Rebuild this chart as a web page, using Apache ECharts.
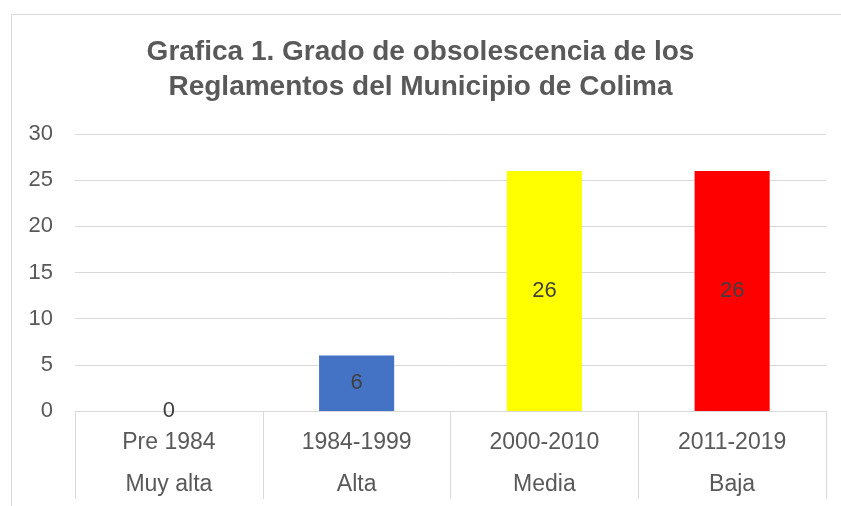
<!DOCTYPE html>
<html>
<head>
<meta charset="utf-8">
<script src="https://cdn.jsdelivr.net/npm/echarts@6/dist/echarts.min.js"></script>
<style>
  html, body { margin: 0; padding: 0; background: #fff; }
  #chart { width: 841px; height: 506px; }
</style>
</head>
<body>
<div id="chart"></div>
<script>
var periods = ['Pre 1984', '1984-1999', '2000-2010', '2011-2019'];
var levels = ['Muy alta', 'Alta', 'Media', 'Baja'];
var counts = [0, 6, 26, 26];
var barColors = ['#4472C4', '#4472C4', '#FFFF00', '#FF0000'];
var yTicks = [0, 5, 10, 15, 20, 25, 30];

var chart = echarts.init(document.getElementById('chart'));
chart.setOption({
  animation: false,
  textStyle: { fontFamily: 'Liberation Sans, Arial, sans-serif' },
  title: {
    text: 'Grafica 1. Grado de obsolescencia de los\nReglamentos del Municipio de Colima',
    left: 'center',
    top: 30,
    textStyle: {
      fontSize: 28,
      fontWeight: 'bold',
      color: '#595959',
      lineHeight: 35
    }
  },
  graphic: [{
    type: 'polyline',
    shape: { points: [[11.5, 506], [11.5, 14.5], [841, 14.5]] },
    style: { stroke: '#d9d9d9', lineWidth: 1, fill: null }
  }],
  grid: { left: 75, right: 15, top: 134, bottom: 92 },
  xAxis: {
    type: 'category',
    data: periods.map(function (p, i) { return p + '\n' + levels[i]; }),
    axisLine: { lineStyle: { color: '#d9d9d9' } },
    axisTick: { show: true, length: 88, lineStyle: { color: '#d9d9d9' } },
    axisLabel: {
      margin: 11,
      fontSize: 23,
      color: '#595959',
      lineHeight: 42
    }
  },
  yAxis: {
    type: 'value',
    min: yTicks[0],
    max: yTicks[yTicks.length - 1],
    interval: 5,
    axisLine: { show: false },
    axisTick: { show: false },
    axisLabel: { fontSize: 22, color: '#595959', margin: 22 },
    splitLine: { lineStyle: { color: '#d9d9d9' } }
  },
  series: [{
    type: 'bar',
    barWidth: '40%',
    data: counts.map(function (v, i) {
      return { value: v, itemStyle: { color: barColors[i] } };
    }),
    label: {
      show: true,
      position: 'inside',
      fontSize: 22,
      color: '#404040'
    }
  }]
});
</script>
</body>
</html>
